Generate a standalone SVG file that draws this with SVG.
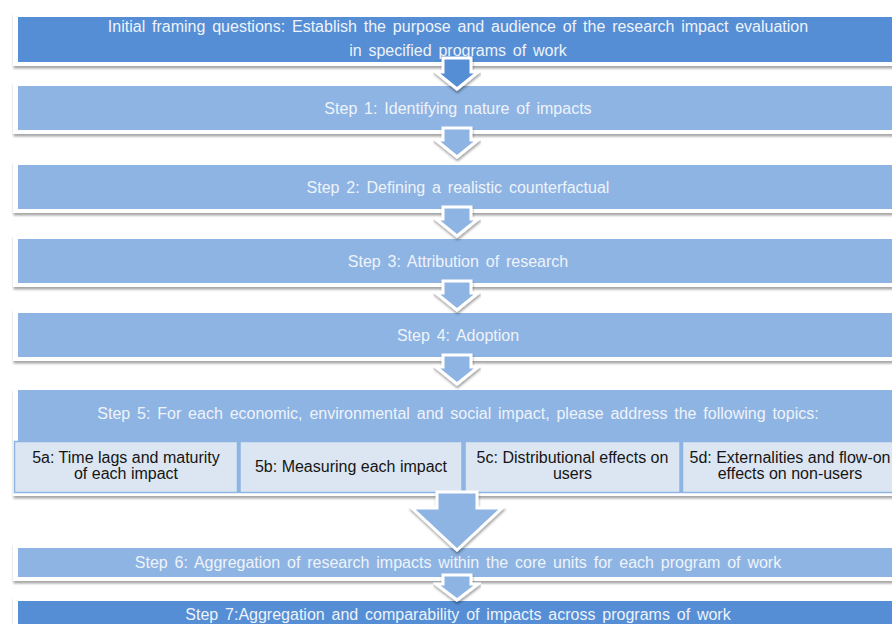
<svg xmlns="http://www.w3.org/2000/svg" width="892" height="624" viewBox="0 0 892 624">
  <defs>
    <filter id="sh" x="-5%" y="-20%" width="110%" height="160%">
      <feDropShadow dx="0.5" dy="2.5" stdDeviation="1.2" flood-color="#000" flood-opacity="0.35"/>
    </filter>
  </defs>
  <style>
    .frame { fill: #ffffff; filter: url(#sh); }
    .dark { fill: #558ED5; }
    .light { fill: #8EB4E3; }
    .sub { fill: #DCE6F2; stroke: #8EB4E3; stroke-width: 1.5; }
    .t { font-family: "Liberation Sans", Arial, sans-serif; font-size: 16px; fill: #EEF3FA; text-anchor: middle; word-spacing: 2.4px; }
    .s { font-family: "Liberation Sans", Arial, sans-serif; font-size: 16px; fill: #151515; text-anchor: middle; }
    .arr { stroke: #ffffff; stroke-width: 3; stroke-linejoin: miter; filter: url(#sh); }
  </style>

  <g id="node-initial">
    <rect class="frame" x="13" y="13" width="900" height="53"/>
    <rect class="dark" x="18" y="17" width="890" height="45"/>
    <text class="t" x="458" y="32">Initial framing questions: Establish the purpose and audience of the research impact evaluation</text>
    <text class="t" x="458" y="56">in specified programs of work</text>
  </g>

  <g id="node-step1">
    <rect class="frame" x="13" y="82" width="900" height="52"/>
    <rect class="light" x="18" y="86" width="890" height="44"/>
    <text class="t" x="458" y="114">Step 1: Identifying nature of impacts</text>
  </g>

  <g id="node-step2">
    <rect class="frame" x="13" y="161" width="900" height="52"/>
    <rect class="light" x="18" y="165" width="890" height="44"/>
    <text class="t" x="458" y="193">Step 2: Defining a realistic counterfactual</text>
  </g>

  <g id="node-step3">
    <rect class="frame" x="13" y="235" width="900" height="52"/>
    <rect class="light" x="18" y="239" width="890" height="44"/>
    <text class="t" x="458" y="267">Step 3: Attribution of research</text>
  </g>

  <g id="node-step4">
    <rect class="frame" x="13" y="309" width="900" height="52"/>
    <rect class="light" x="18" y="313" width="890" height="44"/>
    <text class="t" x="458" y="341">Step 4: Adoption</text>
  </g>

  <g id="node-step5">
    <rect class="frame" x="13" y="388" width="900" height="108"/>
    <rect class="light" x="18" y="390" width="890" height="103"/>
    <text class="t" x="458" y="419">Step 5: For each economic, environmental and social impact, please address the following topics:</text>
    <g id="node-5a">
      <rect class="sub" x="14.5" y="441.5" width="223" height="51"/>
      <text class="s" x="126" y="463">5a: Time lags and maturity</text>
      <text class="s" x="126" y="479">of each impact</text>
    </g>
    <g id="node-5b">
      <rect class="sub" x="240" y="441.5" width="222" height="51"/>
      <text class="s" x="351" y="472">5b: Measuring each impact</text>
    </g>
    <g id="node-5c">
      <rect class="sub" x="465" y="441.5" width="215" height="51"/>
      <text class="s" x="572.5" y="463">5c: Distributional effects on</text>
      <text class="s" x="572.5" y="479">users</text>
    </g>
    <g id="node-5d">
      <rect class="sub" x="682.5" y="441.5" width="220" height="51"/>
      <text class="s" x="790" y="463">5d: Externalities and flow-on</text>
      <text class="s" x="790" y="479">effects on non-users</text>
    </g>
  </g>

  <g id="node-step6">
    <rect class="frame" x="13" y="543" width="900" height="38"/>
    <rect class="light" x="18" y="548" width="890" height="29"/>
    <text class="t" x="458" y="568">Step 6: Aggregation of research impacts within the core units for each program of work</text>
  </g>

  <g id="node-step7">
    <rect class="frame" x="13" y="597" width="900" height="40"/>
    <rect class="dark" x="18" y="601" width="890" height="30"/>
    <text class="t" x="458" y="620">Step 7:Aggregation and comparability of impacts across programs of work</text>
  </g>

  <g id="connectors">
    <path class="arr dark" d="M443,58 L471,58 L471,72 L478,72 L457,89 L436,72 L443,72 Z"/>
    <path class="arr light" d="M443,128 L471,128 L471,140 L478,140 L457,157 L436,140 L443,140 Z"/>
    <path class="arr light" d="M443,207 L471,207 L471,219 L478,219 L457,236 L436,219 L443,219 Z"/>
    <path class="arr light" d="M443,281 L471,281 L471,293 L478,293 L457,310 L436,293 L443,293 Z"/>
    <path class="arr light" d="M443,355 L471,355 L471,367 L478,367 L457,384 L436,367 L443,367 Z"/>
    <path class="arr light" d="M437,492 L477,492 L477,508 L502,508 L457,550 L412,508 L437,508 Z"/>
    <path class="arr light" d="M443,575 L471,575 L471,584 L478,584 L457,600 L436,584 L443,584 Z"/>
  </g>
</svg>
